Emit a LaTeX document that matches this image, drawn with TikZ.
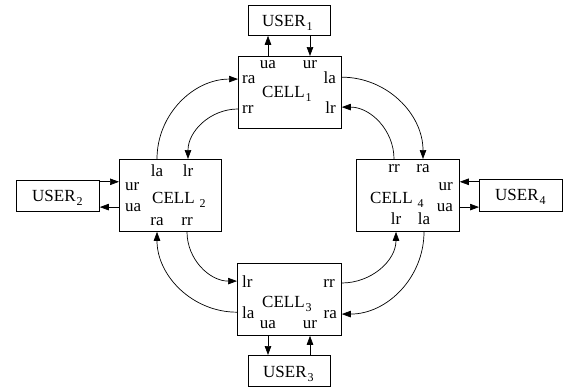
\documentclass[tikz,border=0pt]{standalone}
\usepackage{fontspec}
\setmainfont{Liberation Serif}
\usetikzlibrary{arrows.meta}
\newcommand{\sbx}[1]{\raisebox{-4pt}{\fontsize{12}{12}\selectfont #1}}
\begin{document}
\begin{tikzpicture}[x=1pt,y=-1pt,font=\fontsize{17}{20}\selectfont,
  box/.style={draw,line width=0.8pt,inner sep=0pt,anchor=north west},
  lab/.style={inner sep=0pt},
  arr/.style={line width=0.7pt,-{Triangle[length=9pt,width=6.5pt]}}]
\useasboundingbox (0,0) rectangle (568,388);
% cells
\node[box,minimum width=103pt,minimum height=72pt] (c1) at (238,56) {};
\node[box,minimum width=102pt,minimum height=72pt] (c2) at (119,159) {};
\node[box,minimum width=103pt,minimum height=72pt] (c4) at (356,159) {};
\node[box,minimum width=104pt,minimum height=72pt] (c3) at (237,263) {};
% users
\node[box,minimum width=82pt,minimum height=30pt] (u1) at (248,5) {};
\node[box,minimum width=83pt,minimum height=31pt] (u2) at (16,180) {};
\node[box,minimum width=83pt,minimum height=32pt] (u4) at (479,179) {};
\node[box,minimum width=82pt,minimum height=31pt] (u3) at (248,355) {};
% titles
\node[lab,anchor=base west] (t1) at (262,97) {CELL\kern1pt\sbx{1}};
\node[lab,anchor=base west] (t2) at (152,203) {CELL\kern5pt\sbx{2}};
\node[lab,anchor=base west] (t4) at (370,203) {CELL\kern5pt\sbx{4}};
\node[lab,anchor=base west] (t3) at (262,307) {CELL\kern1pt\sbx{3}};
\node[lab,anchor=base west] (n1) at (262,27) {USER\kern1pt\sbx{1}};
\node[lab,anchor=base west] (n2) at (32,201) {USER\kern1pt\sbx{2}};
\node[lab,anchor=base west] (n4) at (495,200) {USER\kern1pt\sbx{4}};
\node[lab,anchor=base west] (n3) at (263,377) {USER\kern1pt\sbx{3}};
% cell 1 labels
\node[lab,anchor=base] (c1ua) at (268,68) {ua};
\node[lab,anchor=base] (c1ur) at (310,68) {ur};
\node[lab,anchor=base west] (c1ra) at (242,83) {ra};
\node[lab,anchor=base east] (c1la) at (336,83) {la};
\node[lab,anchor=base west] (c1rr) at (242,113) {rr};
\node[lab,anchor=base east] (c1lr) at (336,113) {lr};
% cell 2 labels
\node[lab,anchor=base] (c2la) at (157,176) {la};
\node[lab,anchor=base] (c2lr) at (188,176) {lr};
\node[lab,anchor=base west] (c2ur) at (125,190) {ur};
\node[lab,anchor=base west] (c2ua) at (125,211) {ua};
\node[lab,anchor=base] (c2ra) at (157,225) {ra};
\node[lab,anchor=base] (c2rr) at (187,225) {rr};
% cell 4 labels
\node[lab,anchor=base] (c4rr) at (394,172) {rr};
\node[lab,anchor=base] (c4ra) at (423,172) {ra};
\node[lab,anchor=base east] (c4ur) at (453,190) {ur};
\node[lab,anchor=base east] (c4ua) at (453,211) {ua};
\node[lab,anchor=base] (c4lr) at (396,224) {lr};
\node[lab,anchor=base] (c4la) at (424,224) {la};
% cell 3 labels
\node[lab,anchor=base west] (c3lr) at (242,287) {lr};
\node[lab,anchor=base east] (c3rr) at (335,287) {rr};
\node[lab,anchor=base west] (c3la) at (242,318) {la};
\node[lab,anchor=base east] (c3ra) at (337,318) {ra};
\node[lab,anchor=base] (c3ua) at (268,328) {ua};
\node[lab,anchor=base] (c3ur) at (310,328) {ur};
% user arrows
\draw[arr] (c1ua |- c1.north) -- (c1ua |- u1.south);
\draw[arr] (c1ur |- u1.south) -- (c1ur |- c1.north);
\draw[arr] (u2.east |- c2ur.north) -- (c2.west |- c2ur.north);
\draw[arr] (c2.west |- c2ua) -- (u2.east |- c2ua);
\draw[arr] (u4.west |- c4ur.north) -- (c4.east |- c4ur.north);
\draw[arr] (c4.east |- c4ua) -- (u4.west |- c4ua);
\draw[arr] (c3ua |- c3.south) -- (c3ua |- u3.north);
\draw[arr] (c3ur |- u3.north) -- (c3ur |- c3.south);
% ring arrows
\draw[arr] (c2la |- c2.north) to[out=90,in=180] (c1.west |- c1ra);
\draw[arr] (c1.west |- c1rr) to[out=180,in=90] (c2lr |- c2.north);
\draw[arr] (c1.east |- c1la) to[out=0,in=90] (c4ra |- c4.north);
\draw[arr] (c4rr |- c4.north) to[out=90,in=0] (c1.east |- c1lr);
\draw[arr] (c2rr |- c2.south) to[out=-90,in=180] (c3.west |- c3lr);
\draw[arr] (c3.west |- c3la) to[out=180,in=-90] (c2ra |- c2.south);
\draw[arr] (c3.east |- c3rr) to[out=0,in=-90] (c4lr |- c4.south);
\draw[arr] (c4la |- c4.south) to[out=-90,in=0] (c3.east |- c3ra);
\end{tikzpicture}
\end{document}
